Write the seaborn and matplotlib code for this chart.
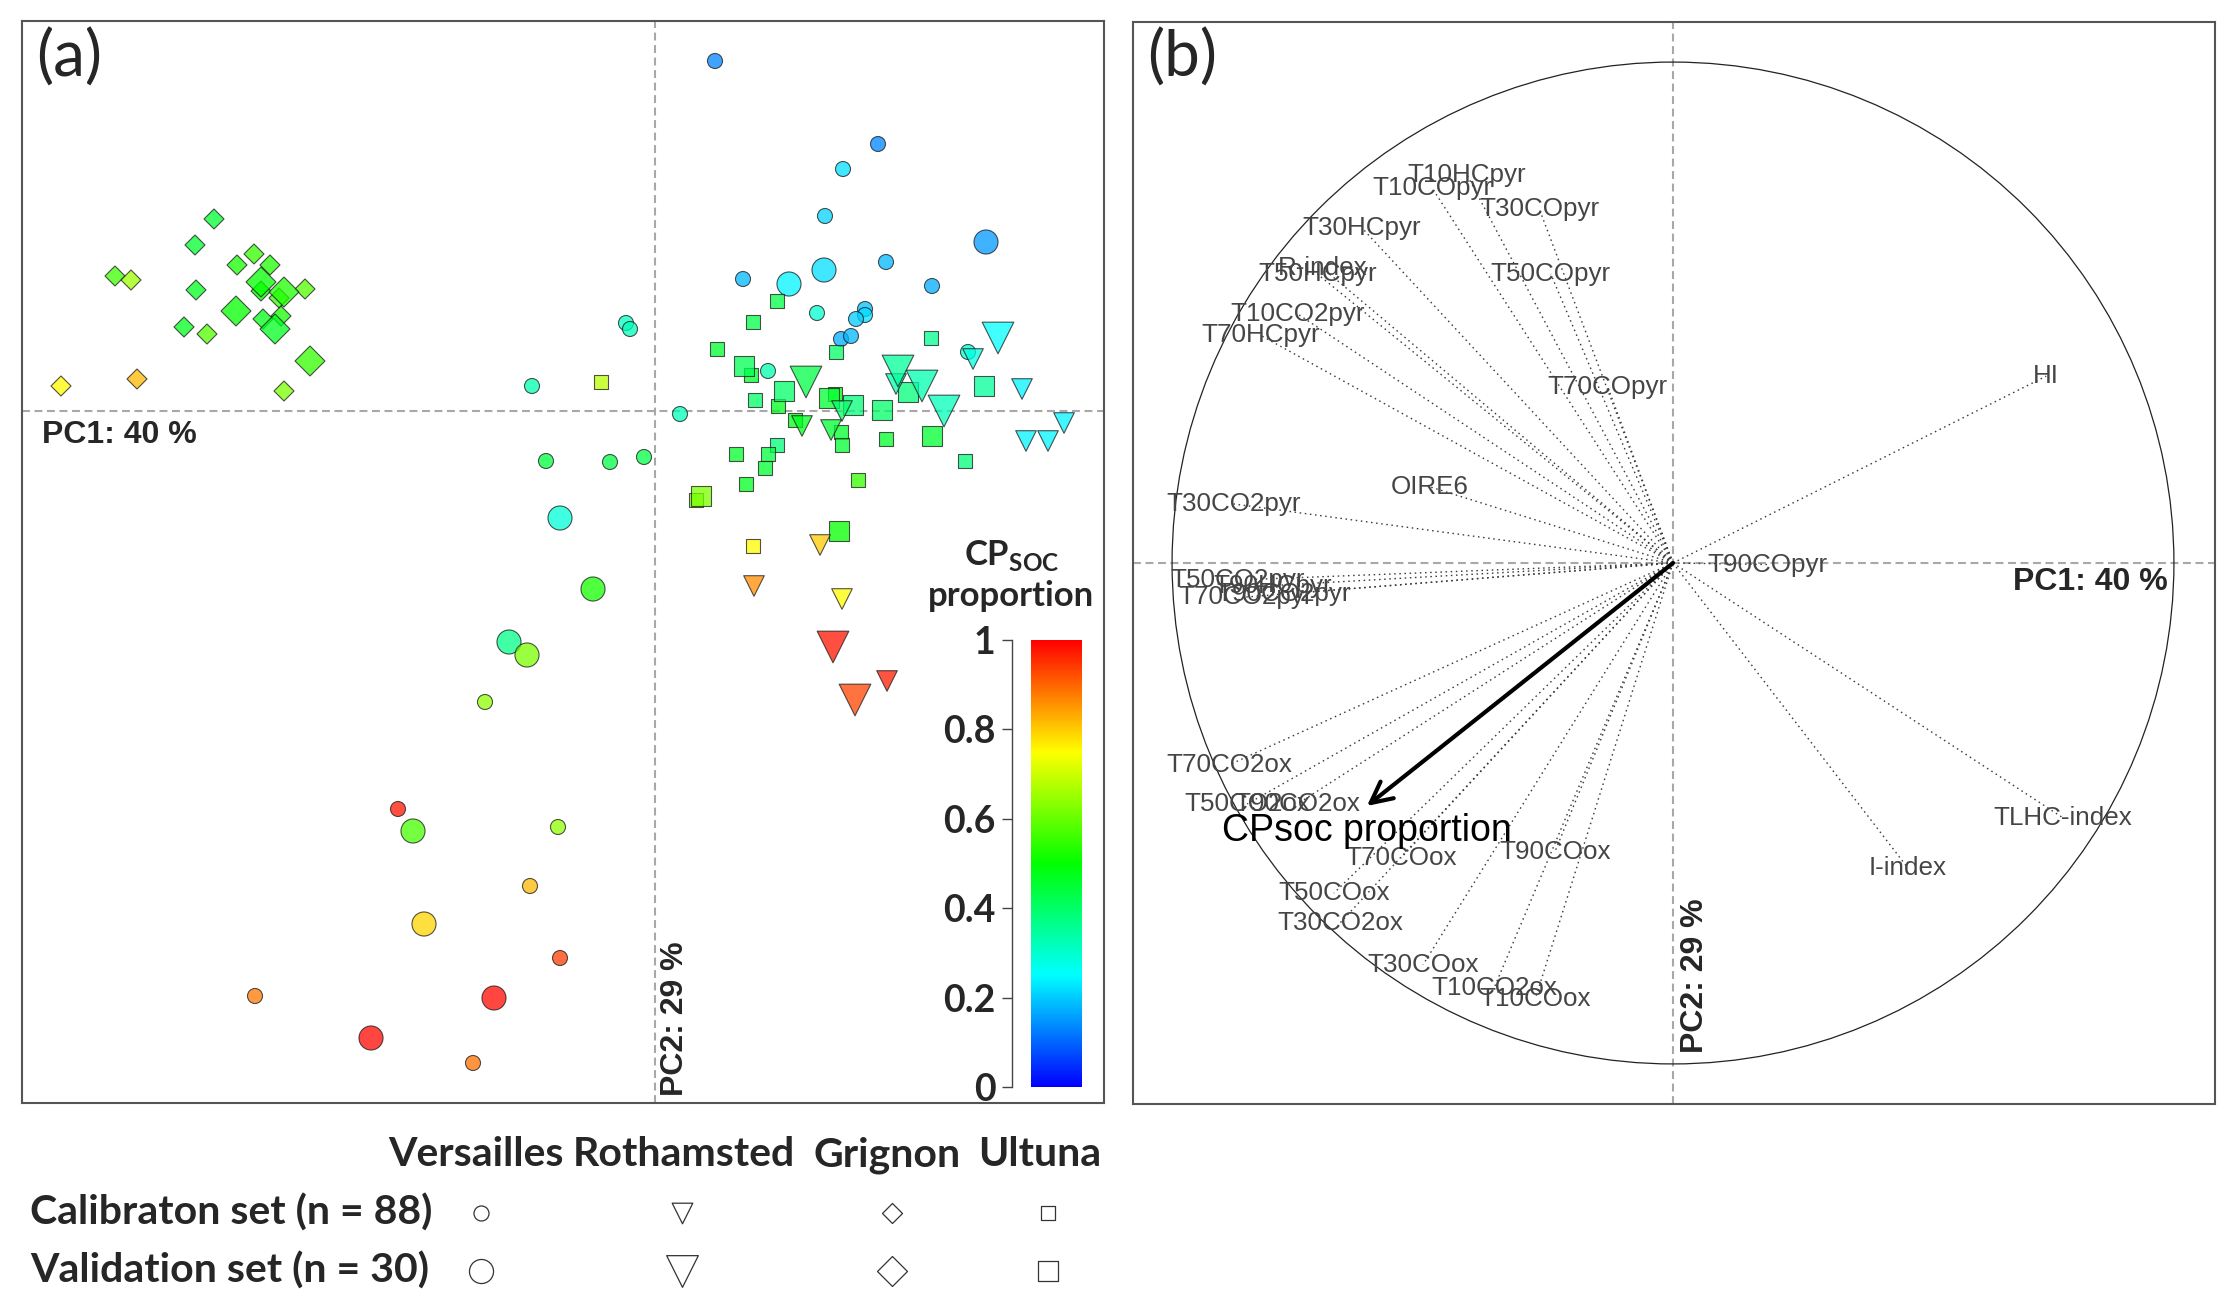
import numpy as np
import pandas as pd
import matplotlib
matplotlib.use("Agg")
import matplotlib.pyplot as plt
import seaborn as sns
from matplotlib.colors import LinearSegmentedColormap, Normalize
from matplotlib.cm import ScalarMappable
from matplotlib.patches import Circle

# ---------------- data: panel (a) PCA scores ----------------
# set: C = calibration, V = validation
versailles_pc1 = [0.60, 2.23, 1.88, 1.70, 2.31, 0.88, 2.77, 1.62, 2.10, 2.10, 2.01, 1.86, 1.96, 3.13, 1.13,
                  -0.29, -0.25, 0.25, -0.45, -0.11, -1.09, -1.23, -1.70, -2.57, -0.97, -1.25, -0.95, -1.82, -4.00,
                  3.31, 1.69, 1.34, -0.95, -0.62, -1.46, -1.28, -2.42, -2.31, -1.61, -2.84]
versailles_pc2 = [3.50, 2.67, 2.42, 1.95, 1.49, 1.32, 1.25, 0.98, 1.02, 0.96, 0.92, 0.72, 0.75, 0.59, 0.40,
                  0.88, 0.82, -0.03, -0.51, -0.46, -0.50, 0.25, -2.91, -3.98, -4.16, -4.75, -5.47, -6.52, -5.85,
                  1.69, 1.41, 1.27, -1.07, -1.78, -2.31, -2.44, -4.20, -5.13, -5.87, -6.27]
versailles_cp = [0.13, 0.13, 0.22, 0.21, 0.18, 0.18, 0.17, 0.30, 0.19, 0.22, 0.20, 0.17, 0.18, 0.30, 0.33,
                 0.31, 0.32, 0.32, 0.43, 0.43, 0.44, 0.33, 0.64, 0.98, 0.64, 0.82, 0.94, 0.89, 0.88,
                 0.15, 0.22, 0.24, 0.29, 0.52, 0.37, 0.62, 0.57, 0.79, 0.99, 0.99]
versailles_set = ["C"] * 29 + ["V"] * 11

rothamsted_pc1 = [3.18, 2.41, 3.67, 1.87, 1.47, 1.76, 4.09, 3.71, 3.93, 1.65, 0.99, 1.87, 2.32,
                  3.43, 1.51, 2.43, 2.67, 2.89, 1.78, 2.00]
rothamsted_pc2 = [0.52, 0.27, 0.22, 0.00, -0.15, -0.19, -0.12, -0.30, -0.30, -1.34, -1.75, -1.88, -2.70,
                  0.73, 0.29, 0.40, 0.25, 0.00, -2.36, -2.89]
rothamsted_cp = [0.28, 0.33, 0.24, 0.40, 0.47, 0.45, 0.24, 0.24, 0.24, 0.80, 0.86, 0.75, 0.97,
                 0.25, 0.43, 0.35, 0.33, 0.32, 0.98, 0.93]
rothamsted_set = ["C"] * 13 + ["V"] * 7

grignon_pc1 = [-4.41, -4.60, -4.01, -4.18, -3.85, -5.40, -5.24, -4.59, -3.94, -3.76, -3.50, -4.71, -4.48,
               -3.92, -3.74, -5.94, -5.18, -3.71,
               -3.94, -3.71, -4.19, -3.80, -3.45]
grignon_pc2 = [1.92, 1.66, 1.57, 1.46, 1.46, 1.35, 1.31, 1.21, 1.20, 1.13, 1.22, 0.84, 0.77,
               0.92, 0.95, 0.25, 0.32, 0.20,
               1.29, 1.19, 1.00, 0.82, 0.50]
grignon_cp = [0.45, 0.45, 0.55, 0.52, 0.53, 0.56, 0.65, 0.47, 0.50, 0.55, 0.58, 0.47, 0.58,
              0.48, 0.52, 0.75, 0.82, 0.62,
              0.50, 0.53, 0.50, 0.47, 0.55]
grignon_set = ["C"] * 18 + ["V"] * 5

ultuna_pc1 = [-0.54, 1.22, 0.98, 0.62, 2.76, 1.81, 0.96, 1.00, 1.23, 1.80, 1.40, 1.86, 1.87, 2.31, 1.22,
              0.81, 1.13, 1.10, 3.10, 0.91, 2.03, 0.41, 0.98,
              0.89, 1.29, 1.74, 1.98, 2.27, 2.53, 3.29, 2.77, 0.46, 1.84]
ultuna_pc2 = [0.29, 1.10, 0.89, 0.62, 0.73, 0.59, 0.36, 0.11, 0.05, 0.17, -0.09, -0.21, -0.34, -0.28, -0.34,
              -0.43, -0.43, -0.57, -0.50, -0.73, -0.69, -0.89, -1.35,
              0.45, 0.20, 0.13, 0.06, 0.01, 0.19, 0.25, -0.25, -0.85, -1.20]
ultuna_cp = [0.68, 0.43, 0.43, 0.45, 0.36, 0.40, 0.45, 0.40, 0.47, 0.48, 0.48, 0.46, 0.45, 0.46, 0.38,
             0.46, 0.44, 0.45, 0.38, 0.47, 0.55, 0.62, 0.75,
             0.42, 0.40, 0.45, 0.38, 0.40, 0.38, 0.35, 0.45, 0.62, 0.50]
ultuna_set = ["C"] * 23 + ["V"] * 10

sites = ["Versailles", "Rothamsted", "Grignon", "Ultuna"]
set_labels = ["Calibraton set (n = 88)", "Validation set (n = 30)"]
pc1_label = "PC1: 40 %"
pc2_label = "PC2: 29 %"
cbar_ticks = [0, 0.2, 0.4, 0.6, 0.8, 1]
cbar_ticklabels = ["0", "0.2", "0.4", "0.6", "0.8", "1"]

# ---------------- data: panel (b) correlation circle ----------------
var_names = ["T10HCpyr", "T10COpyr", "T30COpyr", "T30HCpyr", "R-index", "T50HCpyr", "T50COpyr",
             "T10CO2pyr", "T70HCpyr", "T70COpyr", "OIRE6", "T30CO2pyr", "T50CO2pyr", "T90HCpyr",
             "T70CO2pyr", "T90CO2pyr", "T90COpyr", "HI", "TLHC-index", "I-index",
             "T70CO2ox", "T50CO2ox", "T90CO2ox", "T70COox", "T90COox", "T50COox", "T30CO2ox",
             "T30COox", "T10CO2ox", "T10COox"]
var_pc1 = [-0.411, -0.481, -0.267, -0.621, -0.700, -0.710, -0.244,
           -0.749, -0.824, -0.130, -0.485, -0.878, -0.870, -0.800,
           -0.853, -0.778, 0.188, 0.745, 0.779, 0.469,
           -0.886, -0.850, -0.750, -0.543, -0.236, -0.677, -0.665,
           -0.499, -0.357, -0.275]
var_pc2 = [0.774, 0.749, 0.707, 0.669, 0.589, 0.577, 0.577,
           0.497, 0.455, 0.351, 0.152, 0.118, -0.034, -0.045,
           -0.068, -0.062, -0.003, 0.373, -0.509, -0.609,
           -0.403, -0.481, -0.481, -0.589, -0.577, -0.659, -0.719,
           -0.802, -0.848, -0.870]
sup_name = "CPsoc proportion"
sup_pc1 = -0.611
sup_pc2 = -0.485

# ---------------- style ----------------
W, H, DPI = 2239, 1316, 100
sns.set_style("white")
plt.rcParams["font.family"] = ["Liberation Sans", "DejaVu Sans"]
plt.rcParams["mathtext.fontset"] = "custom"
plt.rcParams["mathtext.rm"] = "Lato"
plt.rcParams["mathtext.bf"] = "Lato:bold"

cmap = LinearSegmentedColormap.from_list(
    "rainbow_cp", ["#0000ff", "#00ffff", "#00ff00", "#ffff00", "#ff0000"])

markers = {"Versailles": "o", "Rothamsted": "v", "Grignon": "D", "Ultuna": "s"}
sizes = {"Versailles": {"C": 117, "V": 300},
         "Rothamsted": {"C": 220, "V": 520},
         "Grignon": {"C": 104, "V": 233},
         "Ultuna": {"C": 100, "V": 227}}

frames = []
for name, xs, ys, cps, ss in [("Versailles", versailles_pc1, versailles_pc2, versailles_cp, versailles_set),
                              ("Rothamsted", rothamsted_pc1, rothamsted_pc2, rothamsted_cp, rothamsted_set),
                              ("Grignon", grignon_pc1, grignon_pc2, grignon_cp, grignon_set),
                              ("Ultuna", ultuna_pc1, ultuna_pc2, ultuna_cp, ultuna_set)]:
    frames.append(pd.DataFrame({"site": name, "pc1": xs, "pc2": ys, "cp": cps, "set": ss}))
df = pd.concat(frames, ignore_index=True)


def fx(px):
    return px / W


def fy(py):
    return 1 - py / H


fig = plt.figure(figsize=(W / DPI, H / DPI), dpi=DPI)
fig.patch.set_facecolor("white")

frame_col = "#555555"
dash_col = "#a8a8a8"
dash_ls = (0, (3.8, 2.2))
LATO = ["Lato", "DejaVu Sans"]

# ---------------- panel (a) ----------------
axA = fig.add_axes([fx(22), fy(1103), fx(1104) - fx(22), fy(21) - fy(1103)])
axA.axhline(0, color=dash_col, lw=1.5, ls=dash_ls, zorder=0)
axA.axvline(0, color=dash_col, lw=1.5, ls=dash_ls, zorder=0)
for site in ["Grignon", "Versailles", "Ultuna", "Rothamsted"]:
    sub = df[df["site"] == site]
    sns.scatterplot(data=sub, x="pc1", y="pc2", hue="cp", palette=cmap, hue_norm=(0, 1),
                    size="set", sizes=sizes[site], size_order=["C", "V"],
                    marker=markers[site], alpha=0.75, edgecolor="#1a1a1a", linewidth=0.8,
                    legend=False, ax=axA, zorder=3)
axA.set_xlim(-6.33, 4.49)
axA.set_ylim(-6.92, 3.90)
axA.set_xticks([])
axA.set_yticks([])
axA.set_xlabel("")
axA.set_ylabel("")
for sp in axA.spines.values():
    sp.set_visible(True)
    sp.set_color(frame_col)
    sp.set_linewidth(1.5)

fig.text(fx(36), fy(28), "(a)", family=LATO, fontsize=46, ha="left", va="top")
fig.text(fx(42), fy(420), pc1_label, fontweight="bold", fontsize=23, ha="left", va="top")
fig.text(fx(660), fy(1096), pc2_label, fontweight="bold", fontsize=23, rotation=90,
         ha="left", va="bottom")

# colour bar
cax = fig.add_axes([fx(1031), fy(1087), fx(1082) - fx(1031), fy(640) - fy(1087)])
sm = ScalarMappable(norm=Normalize(0, 1), cmap=cmap)
cb = fig.colorbar(sm, cax=cax, ticks=cbar_ticks)
cb.outline.set_visible(False)
cb.set_ticklabels(cbar_ticklabels)
cax.yaxis.set_ticks_position("left")
cax.spines["left"].set_visible(True)
cax.spines["left"].set_position(("outward", 13.5))
cax.spines["left"].set_color("#444444")
cax.spines["left"].set_linewidth(1.0)
cax.tick_params(axis="y", direction="out", length=7, width=1.0, color="#444444", pad=5)
for t in cax.get_yticklabels():
    t.set_fontfamily(LATO)
    t.set_fontweight("bold")
    t.set_fontsize(27)
fig.text(fx(1012), fy(555), r"$\mathbf{CP}_{\mathbf{SOC}}$", fontsize=25, ha="center", va="center")
fig.text(fx(1011), fy(596), "proportion", family=LATO, fontweight="bold",
         fontsize=25, ha="center", va="center")

# ---------------- panel (b) ----------------
axB = fig.add_axes([fx(1133), fy(1104), fx(2215) - fx(1133), fy(22) - fy(1104)])
axB.set_xlim(-1.078, 1.082)
axB.set_ylim(-1.08, 1.08)
axB.axhline(0, color=dash_col, lw=1.5, ls=dash_ls, zorder=0)
axB.axvline(0, color=dash_col, lw=1.5, ls=dash_ls, zorder=0)
axB.add_patch(Circle((0, 0), 1.0, fill=False, edgecolor="#222222", lw=0.9, zorder=1))
for nm, x, y in zip(var_names, var_pc1, var_pc2):
    axB.plot([0, x], [0, y], ls=(0, (1.1, 2.6)), color="#3a3a3a", lw=1.0, zorder=2)
for nm, x, y in zip(var_names, var_pc1, var_pc2):
    axB.text(x, y, nm, ha="center", va="center", fontsize=18.7, color="#454545", zorder=4)
axB.annotate("", xy=(sup_pc1, sup_pc2), xytext=(0, 0),
             arrowprops=dict(arrowstyle="->", lw=3.0, color="black", mutation_scale=38,
                             shrinkA=0, shrinkB=0), zorder=5)
axB.text(sup_pc1, sup_pc2 - 0.05, sup_name, ha="center", va="center", fontsize=27,
         color="black", zorder=6)
axB.set_xticks([])
axB.set_yticks([])
for sp in axB.spines.values():
    sp.set_visible(True)
    sp.set_color(frame_col)
    sp.set_linewidth(1.5)

fig.text(fx(1147), fy(28), "(b)", family=LATO, fontsize=46, ha="left", va="top")
fig.text(fx(2168), fy(567), pc1_label, fontweight="bold", fontsize=23, ha="right", va="top")
fig.text(fx(1680), fy(1053), pc2_label, fontweight="bold", fontsize=23, rotation=90,
         ha="left", va="bottom")

# ---------------- legend (below panel a) ----------------
legAx = fig.add_axes([0, 0, 1, 1], zorder=-1)
legAx.set_xlim(0, W)
legAx.set_ylim(H, 0)
legAx.axis("off")
legAx.patch.set_alpha(0)
header_x = [476, 684, 887, 1040]
marker_x = [481, 682, 892, 1048]
row_y = [1213, 1271]
for name, hx in zip(sites, header_x):
    fig.text(fx(hx), fy(1155), name, family=LATO, fontweight="bold",
             fontsize=29.5, ha="center", va="center")
for lab, ry, key in zip(set_labels, row_y, ["C", "V"]):
    fig.text(fx(30), fy(ry), lab, family=LATO, fontweight="bold",
             fontsize=29.5, ha="left", va="center")
    for name, mx in zip(sites, marker_x):
        legAx.scatter([mx], [ry], s=sizes[name][key], marker=markers[name],
                      facecolors="white", edgecolors="#333333", linewidths=0.9)

fig.savefig("out.png", dpi=DPI, facecolor="white")
